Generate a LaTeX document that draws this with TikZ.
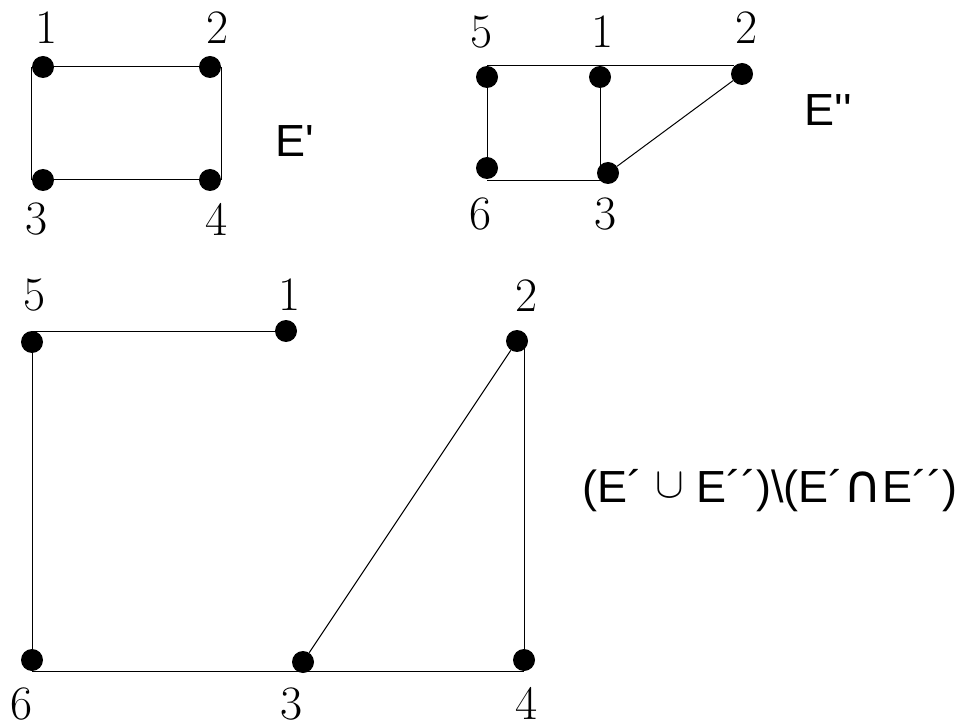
\documentclass[tikz,border=0pt]{standalone}
\usepackage{fontspec}
\usepackage{graphicx}
\newfontfamily\arial[Ligatures=TeXOff]{Liberation Sans}
\newfontfamily\dejavu{DejaVu Sans}
\tikzset{
  dot/.style={circle,fill=black,inner sep=0pt,minimum size=22pt},
  edge/.style={line width=1pt,black},
  num/.style={inner sep=0pt,font=\fontsize{48}{48}\selectfont},
  setlbl/.style={inner sep=0pt,font=\arial\fontsize{45}{45}\selectfont}
}
\begin{document}
\begin{tikzpicture}[x=1pt,y=-1pt]
\useasboundingbox (0,0) rectangle (969,727);
% ---- E' ----
\node[dot] (a1) at (43,67) {};
\node[dot] (a2) at (210,67) {};
\node[dot] (a3) at (43,180) {};
\node[dot] (a4) at (210,180) {};
\draw[edge] (a1) -- (a2);
\draw[edge] (a3) -- (a4);
\draw[edge] (a1.west) -- (a3.west);
\draw[edge] (a2.east) -- (a4.east);
\node[num] (la1) at (47,28) {1};
\node[num] (la2) at (218,28) {2};
\node[num] (la3) at (37,219) {3};
\node[num] (la4) at (217,219) {4};
\node[setlbl] (E1) at (295,141) {E'};
% ---- E'' ----
\node[dot] (b5) at (487,77) {};
\node[dot] (b1) at (600,77) {};
\node[dot] (b2) at (742,74) {};
\node[dot] (b6) at (487,168) {};
\node[dot] (b3) at (608,173) {};
\draw[edge] (b5.north) -- (b5.north -| b2.north west);
\draw[edge] (b5) -- (b6);
\draw[edge] (b1) -- (b1 |- b3.south west);
\draw[edge] (b6 |- b3.south west) -- (b1 |- b3.south west);
\draw[edge] (b3) -- (b2);
\node[num] (lb5) at (482,32) {5};
\node[num] (lb1) at (603,32) {1};
\node[num] (lb2) at (747,28) {2};
\node[num] (lb6) at (481,214) {6};
\node[num] (lb3) at (606,214) {3};
\node[setlbl] (E2) at (828,110) {E''};
% ---- symmetric difference ----
\node[dot] (c5) at (32,342) {};
\node[dot] (c1) at (286,331) {};
\node[dot] (c2) at (517,341) {};
\node[dot] (c6) at (32,660) {};
\node[dot] (c3) at (303,662) {};
\node[dot] (c4) at (524,660) {};
\draw[edge] (c5 |- c1) -- (c1);
\draw[edge] (c5 |- c1) -- (c6 |- c4.south);
\draw[edge] (c6 |- c4.south) -- (c4.south);
\draw[edge] (c4.south) -- (c4 |- c2);
\draw[edge] (c3) -- (c2);
\node[num] (lc5) at (35,295) {5};
\node[num] (lc1) at (290,295) {1};
\node[num] (lc2) at (527,296) {2};
\node[num] (lc6) at (22,704) {6};
\node[num] (lc3) at (292,704) {3};
\node[num] (lc4) at (527,703) {4};
\node[setlbl] (E3) at (770,491) {(E´ \raisebox{5pt}{\scalebox{4.3}{\normalsize$\cup$}} E´´)\textbackslash(E´{\dejavu\fontsize{53}{53}\selectfont ∩}E´´)};
\end{tikzpicture}
\end{document}
